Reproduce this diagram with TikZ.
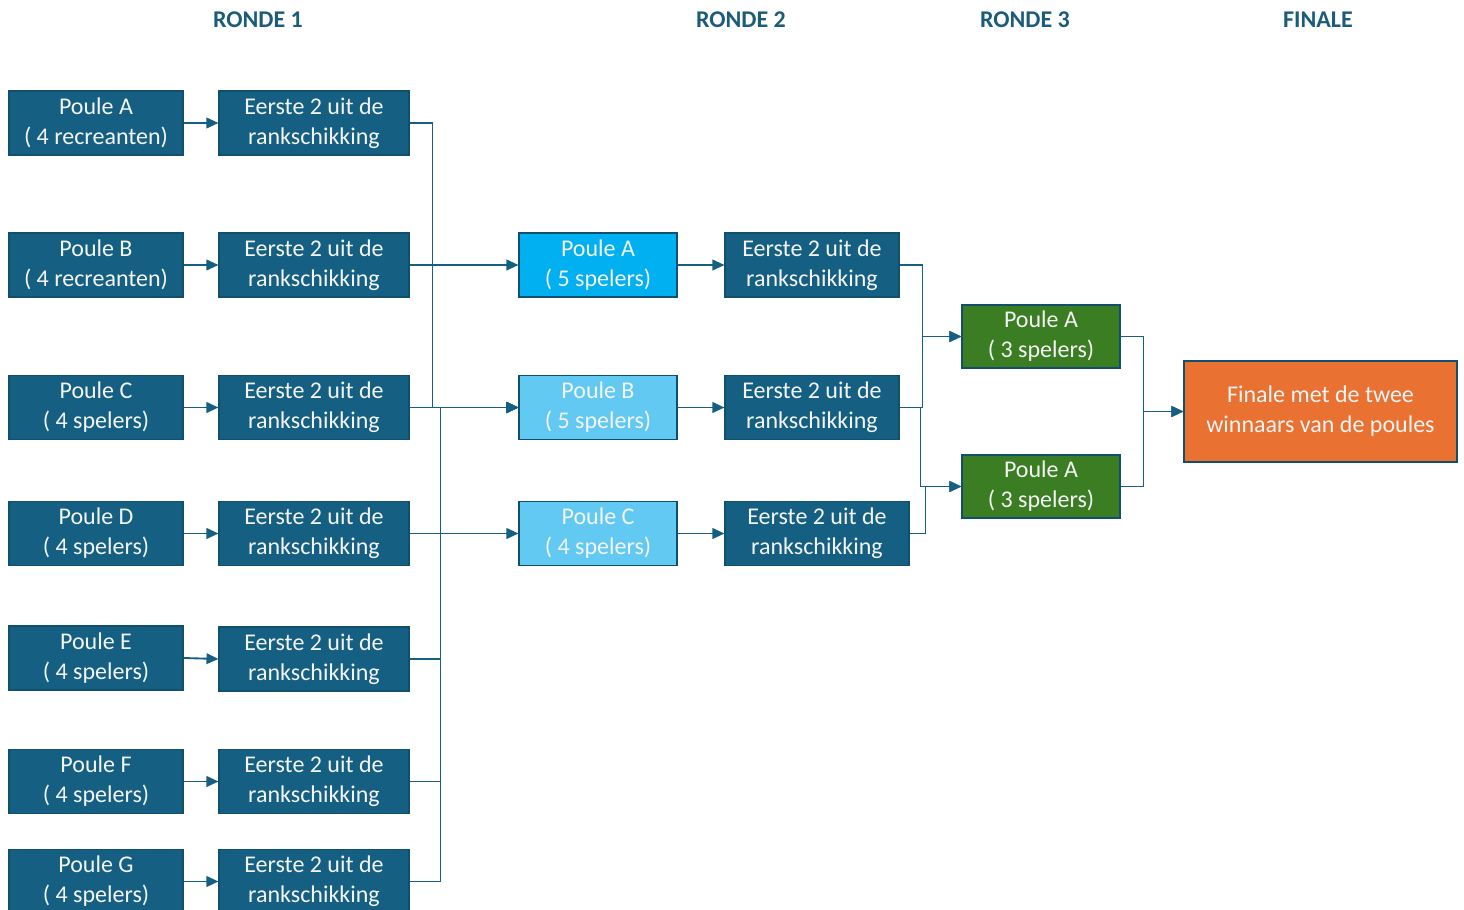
\documentclass[tikz,border=0pt]{standalone}
\usepackage{fontspec}
\setmainfont{Carlito}
\usetikzlibrary{arrows.meta}
\definecolor{dblue}{HTML}{156082}
\definecolor{bord}{HTML}{10506D}
\definecolor{cyanA}{HTML}{00B0F0}
\definecolor{cyanL}{HTML}{62CAF2}
\definecolor{grn}{HTML}{3A7D22}
\definecolor{orng}{HTML}{E97132}
\definecolor{hdr}{HTML}{1A5C7A}
\definecolor{txt}{HTML}{F4F4F4}
\tikzset{
  bx/.style={draw=bord, line width=0.8pt, fill=dblue, text=txt, inner sep=0pt, align=center,
    minimum height=48pt, font=\fontsize{18}{22.5}\selectfont},
  poulebox/.style={bx, minimum width=130.5pt},
  eerstebox/.style={bx, minimum width=142.5pt},
  r2box/.style={bx, minimum width=118.5pt},
  r2ebox/.style={bx, minimum width=130.5pt},
  greenbox/.style={bx, fill=grn, minimum width=118.5pt, minimum height=47.25pt},
  finbox/.style={bx, fill=orng, minimum width=204.75pt, minimum height=75.75pt},
  hd/.style={text=hdr, font=\fontsize{18}{22}\selectfont\bfseries},
  conn/.style={draw=dblue, line width=1.4pt},
  arr/.style={conn, -{Triangle[length=9pt,width=8pt]}}
}
\begin{document}
\begin{tikzpicture}[x=0.75pt,y=-0.75pt]
\useasboundingbox (0,0) rectangle (1464,910);
\clip (0,0) rectangle (1464,910);
% headers
\node[hd] (h1) at (258,20) {RONDE 1};
\node[hd] (h2) at (741,20) {RONDE 2};
\node[hd] (h3) at (1025,20) {RONDE 3};
\node[hd] (h4) at (1318,20) {FINALE};
% round 1 poules
\node[poulebox] (pA) at (96,123) {Poule A\\( 4 recreanten)};
\node[poulebox] (pB) at (96,265) {Poule B\\( 4 recreanten)};
\node[poulebox] (pC) at (96,407.5) {Poule C\\( 4 spelers)};
\node[poulebox] (pD) at (96,533.5) {Poule D\\( 4 spelers)};
\node[poulebox] (pE) at (96,658) {Poule E\\( 4 spelers)};
\node[poulebox] (pF) at (96,781.5) {Poule F\\( 4 spelers)};
\node[poulebox] (pG) at (96,881.5) {Poule G\\( 4 spelers)};
% round 1 ranking
\node[eerstebox] (eA) at (314,123) {Eerste 2 uit de\\rankschikking};
\node[eerstebox] (eB) at (314,265) {Eerste 2 uit de\\rankschikking};
\node[eerstebox] (eC) at (314,407.5) {Eerste 2 uit de\\rankschikking};
\node[eerstebox] (eD) at (314,533.5) {Eerste 2 uit de\\rankschikking};
\node[eerstebox] (eE) at (314,659) {Eerste 2 uit de\\rankschikking};
\node[eerstebox] (eF) at (314,781.5) {Eerste 2 uit de\\rankschikking};
\node[eerstebox] (eG) at (314,881.5) {Eerste 2 uit de\\rankschikking};
% round 2
\node[r2box, fill=cyanA] (qA) at (598,265) {Poule A\\( 5 spelers)};
\node[r2box, fill=cyanL] (qB) at (598,407.5) {Poule B\\( 5 spelers)};
\node[r2box, fill=cyanL] (qC) at (598,533.5) {Poule C\\( 4 spelers)};
\node[r2ebox] (fA) at (812,265) {Eerste 2 uit de\\rankschikking};
\node[r2ebox] (fB) at (812,407.5) {Eerste 2 uit de\\rankschikking};
\node[r2ebox, minimum width=138pt] (fC) at (817,533.5) {Eerste 2 uit de\\rankschikking};
% round 3
\node[greenbox] (gA) at (1041,336.5) {Poule A\\( 3 spelers)};
\node[greenbox] (gB) at (1041,486.5) {Poule A\\( 3 spelers)};
% final
\node[finbox] (fin) at (1320.5,411.5) {Finale met de twee\\winnaars van de poules};
% connectors round 1
\foreach \r in {A,B,C,D,E,F,G} { \draw[arr] (p\r.east) -- (e\r.west); }
\draw[arr] (eA.east) -- ++(23,0) |- (qB.west);
\draw[arr] (eB.east) -- (qA.west);
\draw[arr] (eC.east) -- (qB.west);
\draw[arr] (eD.east) -- (qC.west);
\draw[arr] (eE.east) -- ++(31,0) |- (qB.west);
\draw[arr] (eF.east) -- ++(31,0) |- (qB.west);
\draw[arr] (eG.east) -- ++(31,0) |- (qB.west);
% round 2
\draw[arr] (qA.east) -- (fA.west);
\draw[arr] (qB.east) -- (fB.west);
\draw[arr] (qC.east) -- (fC.west);
\draw[arr] (fA.east) -- ++(23,0) |- (gA.west);
\draw[arr] (fB.east) -- ++(23,0) |- (gA.west);
\draw[arr] (fB.east) -- ++(21,0) |- (gB.west);
\draw[arr] (fC.east) -- ++(16,0) |- (gB.west);
% round 3
\draw[arr] (gA.east) -- ++(23,0) |- (fin.west);
\draw[arr] (gB.east) -- ++(23,0) |- (fin.west);
\end{tikzpicture}
\end{document}
